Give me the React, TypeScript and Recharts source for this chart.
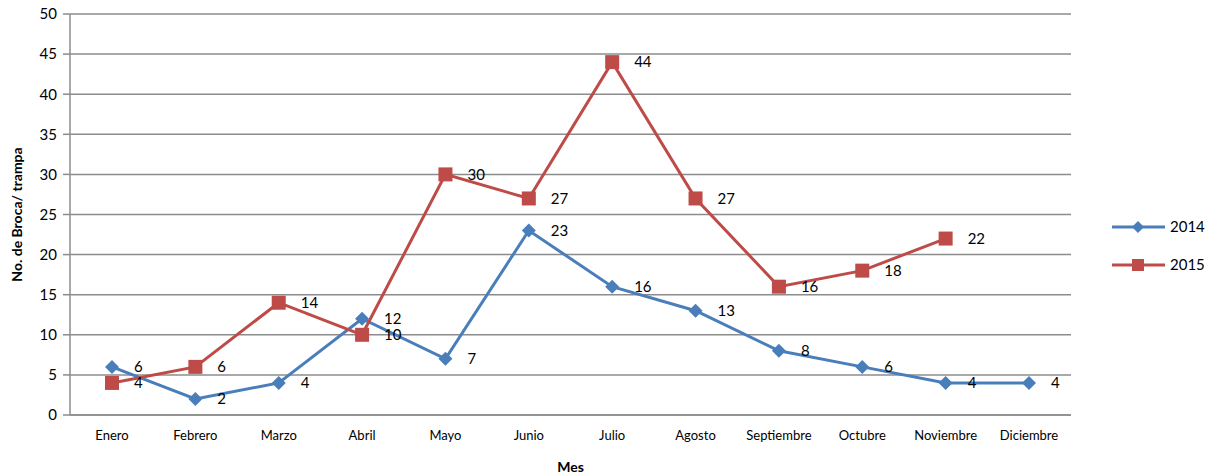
import { LineChart, Line, XAxis, YAxis, CartesianGrid, LabelList } from 'recharts';

const meses = ['Enero', 'Febrero', 'Marzo', 'Abril', 'Mayo', 'Junio', 'Julio', 'Agosto', 'Septiembre', 'Octubre', 'Noviembre', 'Diciembre'];
const serie2014 = [6, 2, 4, 12, 7, 23, 16, 13, 8, 6, 4, 4];
const serie2015 = [4, 6, 14, 10, 30, 27, 44, 27, 16, 18, 22, null];
const yTicks = [0, 5, 10, 15, 20, 25, 30, 35, 40, 45, 50];

const AZUL = '#4a7ebb';
const ROJO = '#be4b48';
const FONT = 'Lato, "Liberation Sans", sans-serif';

const data = meses.map((m, i) => ({ mes: m, a2014: serie2014[i], a2015: serie2015[i] }));

const Diamond = (props: any) => {
	const { cx, cy } = props;
	if (cx == null || cy == null || isNaN(cy)) return null;
	const r = 7;
	return <path d={`M${cx},${cy - r}L${cx + r},${cy}L${cx},${cy + r}L${cx - r},${cy}Z`} fill={AZUL} />;
};

const Square = (props: any) => {
	const { cx, cy } = props;
	if (cx == null || cy == null || isNaN(cy)) return null;
	const s = 7;
	return <rect x={cx - s} y={cy - s} width={s * 2} height={s * 2} fill={ROJO} />;
};

const ValueLabel = (props: any) => {
	const { x, y, value } = props;
	if (value == null) return null;
	return (
		<text x={x + 22} y={y} dy="0.35em" fontSize={15} fontFamily={FONT} fill="#000" textAnchor="start">
			{value}
		</text>
	);
};

const YTitle = (props: any) => {
	const { viewBox } = props;
	const x = (viewBox?.x ?? 0) + 17;
	const y = (viewBox?.y ?? 14) + (viewBox?.height ?? 401) / 2;
	return (
		<text x={x} y={y} transform={`rotate(-90, ${x}, ${y})`} textAnchor="middle" dy="0.35em" fontSize={14} fontWeight="bold" fontFamily={FONT} fill="#000">
			No. de Broca/ trampa
		</text>
	);
};

const Leyenda = () => (
	<svg width={120} height={80} style={{ position: 'absolute', left: 1110, top: 217 }}>
		<line x1={2} y1={10} x2={55} y2={10} stroke={AZUL} strokeWidth={3} />
		<path d="M28,4L34,10L28,16L22,10Z" fill={AZUL} />
		<text x={60} y={10} dy="0.35em" fontSize={15} fontFamily={FONT} fill="#000">2014</text>
		<line x1={2} y1={48} x2={55} y2={48} stroke={ROJO} strokeWidth={3} />
		<rect x={22} y={42} width={12} height={12} fill={ROJO} />
		<text x={60} y={48} dy="0.35em" fontSize={15} fontFamily={FONT} fill="#000">2015</text>
	</svg>
);

export default function App() {
	return (
		<div style={{ background: '#fff', width: 1217, height: 474, position: 'relative' }}>
			<style>{`body{margin:0}`}</style>
			<LineChart width={1217} height={474} data={data} margin={{ top: 14, right: 146, left: 0, bottom: 0 }}>
				<CartesianGrid vertical={false} stroke="#8c8c8c" strokeWidth={1.5} />
				<XAxis
					dataKey="mes"
					height={59}
					padding={{ left: 42, right: 42 }}
					tickLine={false}
					tickSize={8}
					tickMargin={8}
					stroke="#8c8c8c"
					strokeWidth={1.5}
					tick={{ fill: '#000', fontSize: 13, fontFamily: FONT }}
					interval={0}
					label={{ value: 'Mes', position: 'insideBottom', offset: 2, fill: '#000', fontSize: 14, fontWeight: 'bold', fontFamily: FONT }}
				/>
				<YAxis
					width={70}
					domain={[0, 50]}
					ticks={yTicks}
					interval={0}
					tickSize={7}
					tickMargin={6}
					stroke="#8c8c8c"
					strokeWidth={1.5}
					tick={{ fill: '#000', fontSize: 15, fontFamily: FONT }}
					label={<YTitle />}
				/>
				<Line
					dataKey="a2014"
					name="2014"
					stroke={AZUL}
					strokeWidth={3}
					dot={<Diamond />}
					activeDot={false}
					isAnimationActive={false}
				>
					<LabelList dataKey="a2014" content={<ValueLabel />} />
				</Line>
				<Line
					dataKey="a2015"
					name="2015"
					stroke={ROJO}
					strokeWidth={3}
					dot={<Square />}
					activeDot={false}
					isAnimationActive={false}
				>
					<LabelList dataKey="a2015" content={<ValueLabel />} />
				</Line>
			</LineChart>
			<Leyenda />
		</div>
	);
}
